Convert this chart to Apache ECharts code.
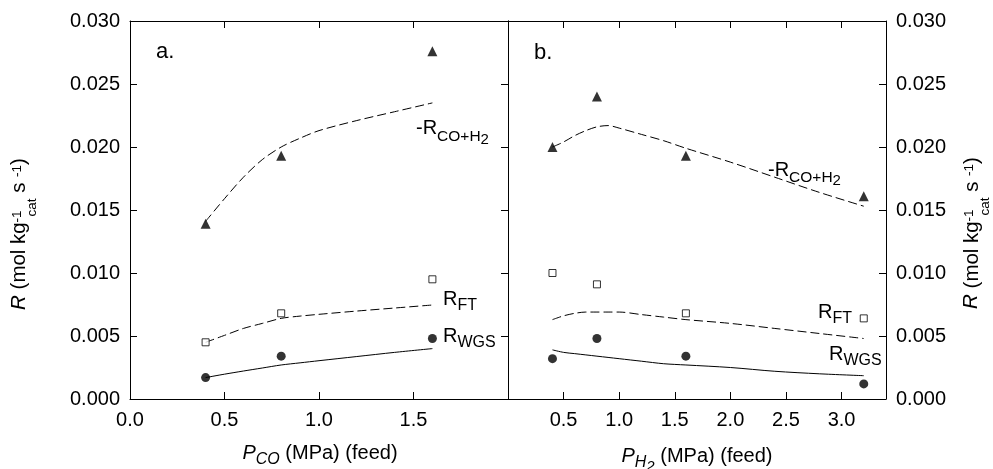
<!DOCTYPE html>
<html>
<head>
<meta charset="utf-8">
<script src="https://cdn.jsdelivr.net/npm/echarts@6/dist/echarts.min.js"></script>
<style>
  html, body { margin: 0; padding: 0; background: #fff; }
  #chart { width: 993px; height: 469px; }
</style>
</head>
<body>
<div id="chart"></div>
<script>
// ---------- data ----------
// Panel a: varying CO feed pressure
const pcoFeed = [0.4, 0.8, 1.6];
const aRCO = [0.0139, 0.0193, 0.0276];   // -R_CO+H2 (triangles)
const aRFT = [0.0045, 0.0068, 0.0095];   // R_FT (open squares)
const aRWGS = [0.0017, 0.0034, 0.0048];  // R_WGS (filled circles)

// Panel a model curves
const aModelX = [0.4, 0.5, 0.6, 0.7, 0.8, 0.9, 1.0, 1.2, 1.4, 1.6];
const aModelRCO = [0.0141, 0.0159, 0.0176, 0.0190, 0.0200, 0.0207, 0.0213, 0.0221, 0.0228, 0.0235];
const aModelRFT = [0.0045, 0.00505, 0.0056, 0.0060, 0.0064, 0.00658, 0.00672, 0.00698, 0.00722, 0.00746];
const aModelRWGS = [0.0017, 0.00197, 0.00222, 0.00246, 0.0027, 0.00287, 0.00304, 0.00337, 0.0037, 0.0040];

// Panel b: varying H2 feed pressure
const ph2Feed = [0.4, 0.8, 1.6, 3.2];
const bRCO = [0.0200, 0.0240, 0.0193, 0.0161];
const bRFT = [0.0100, 0.0091, 0.0068, 0.0064];
const bRWGS = [0.0032, 0.0048, 0.0034, 0.0012];

// Panel b model curves
const bModelX = [0.4, 0.5, 0.6, 0.7, 0.8, 0.9, 1.0, 1.2, 1.4, 1.6, 2.0, 2.4, 2.8, 3.2];
const bModelRCO = [0.0200, 0.0204, 0.0209, 0.0213, 0.0216, 0.0217, 0.0215, 0.0210, 0.0205, 0.0199, 0.0188, 0.0176, 0.0164, 0.0153];
const bModelRFT = [0.0063, 0.0066, 0.0068, 0.0069, 0.0069, 0.0069, 0.0069, 0.0067, 0.0065, 0.0063, 0.0060, 0.0056, 0.0052, 0.0048];
const bModelRWGS = [0.0039, 0.0037, 0.0036, 0.0035, 0.0034, 0.0033, 0.0032, 0.0030, 0.0028, 0.0027, 0.0025, 0.0022, 0.0020, 0.00185];

// axis ranges / ticks
const yMin = 0, yMax = 0.030, yStep = 0.005;
const xaMin = 0, xaMax = 2.0, xaStep = 0.5;
const xbMin = 0, xbMax = 3.4, xbStep = 0.5;

// ---------- chart ----------
const FONT = '"Liberation Sans", Arial, Helvetica, sans-serif';
const BLACK = '#000';
const FS = 20;
const chart = echarts.init(document.getElementById('chart'), null, { renderer: 'canvas' });

const pairs = (xs, ys) => xs.map((x, i) => [x, ys[i]]);

const tickStyle = { show: true, inside: true, length: 7, lineStyle: { color: BLACK, width: 1 } };
const lineStyleAxis = { show: true, onZero: false, lineStyle: { color: BLACK, width: 1 } };
const labelStyle = { color: BLACK, fontFamily: FONT, fontSize: FS };

function xAxis(gridIndex, position, min, max, step, showLabels, hideFn) {
  return {
    type: 'value', gridIndex, position, min, max, interval: step,
    axisLine: lineStyleAxis,
    axisTick: tickStyle,
    splitLine: { show: false },
    axisLabel: showLabels ? Object.assign({}, labelStyle, {
      margin: 11, showMinLabel: true, showMaxLabel: true,
      formatter: v => hideFn(v) ? '' : v.toFixed(1)
    }) : { show: false }
  };
}
function yAxis(gridIndex, position, showLabels, showTicks) {
  return {
    type: 'value', gridIndex, position, min: yMin, max: yMax, interval: yStep,
    axisLine: lineStyleAxis,
    axisTick: showTicks ? tickStyle : { show: false },
    splitLine: { show: false },
    axisLabel: showLabels ? Object.assign({}, labelStyle, {
      margin: 10, formatter: v => v.toFixed(3)
    }) : { show: false }
  };
}

const dashed = { color: BLACK, width: 1, type: [9, 4] };
const solid = { color: BLACK, width: 1, type: 'solid' };

function modelLine(name, xi, yi, xs, ys, style) {
  return {
    name, type: 'line', xAxisIndex: xi, yAxisIndex: yi, data: pairs(xs, ys),
    showSymbol: false, smooth: 0.3, lineStyle: style, z: 2, silent: true
  };
}
function points(name, xi, yi, xs, ys, kind) {
  const base = { name, type: 'scatter', xAxisIndex: xi, yAxisIndex: yi, data: pairs(xs, ys), z: 3, silent: true };
  if (kind === 'tri') return Object.assign(base, { symbol: 'triangle', symbolSize: 10, itemStyle: { color: BLACK } });
  if (kind === 'sq') return Object.assign(base, { symbol: 'rect', symbolSize: 7, itemStyle: { color: '#fff', borderColor: BLACK, borderWidth: 1 } });
  return Object.assign(base, { symbol: 'circle', symbolSize: 9, itemStyle: { color: BLACK } });
}

// rich text styles: vertical offsets via top padding (all tokens top-aligned)
function tok(size, padTop, italic, extra) {
  return Object.assign({
    fontFamily: FONT, fontSize: size, color: BLACK, verticalAlign: 'top',
    padding: [padTop, 0, 0, 0], fontStyle: italic ? 'italic' : 'normal'
  }, extra || {});
}
const rich = {
  m:   tok(FS, 4, false),
  mi:  tok(FS, 4, true),
  t:   tok(20.5, 4, false),           // y-title main text
  ti:  tok(20.5, 4, true),
  s:   tok(16, 12.1, false),          // R_FT, R_WGS subscripts
  si:  tok(16, 12.3, true),           // P_CO subscript
  sh:  tok(16, 13, true),             // P_H subscript
  sc:  tok(15.5, 13.75, false),       // CO+H subscript
  ss:  tok(15, 17.7, false),          // sub-subscript 2
  ssi: tok(15, 17.5, true),
  sup: tok(13.5, 4.9, false),
  sup0:tok(13.5, 4.9, false, { width: 0.01 }),
  cat: tok(13.5, 20.5, false)
};

function txt(x, y, text, align, extra) {
  return Object.assign({
    type: 'text', x, y, silent: true, z: 10,
    style: { text, rich, align: align || 'left', verticalAlign: 'top', fill: BLACK, font: FS + 'px ' + FONT }
  }, extra || {});
}

const yTitle = '{ti|R}{t| (mol kg }{sup0|-1}{cat|cat}{t| s }{sup|-1}{t|)}';

chart.setOption({
  backgroundColor: '#fff',
  animation: false,
  grid: [
    { left: 130, top: 21, width: 378, height: 378, outerBoundsMode: 'none', containLabel: false },
    { left: 508, top: 21, width: 378, height: 378, outerBoundsMode: 'none', containLabel: false }
  ],
  xAxis: [
    xAxis(0, 'bottom', xaMin, xaMax, xaStep, true, v => v >= xaMax - 1e-9),
    xAxis(0, 'top', xaMin, xaMax, xaStep, false),
    xAxis(1, 'bottom', xbMin, xbMax, xbStep, true, v => v <= 1e-9 || v > 3.05),
    xAxis(1, 'top', xbMin, xbMax, xbStep, false)
  ],
  yAxis: [
    yAxis(0, 'left', true, true),
    yAxis(0, 'right', false, true),
    yAxis(1, 'right', true, true),
    yAxis(1, 'left', false, false)
  ],
  series: [
    modelLine('a -R CO+H2 model', 0, 0, aModelX, aModelRCO, dashed),
    modelLine('a R FT model', 0, 0, aModelX, aModelRFT, dashed),
    modelLine('a R WGS model', 0, 0, aModelX, aModelRWGS, solid),
    points('a -R CO+H2', 0, 0, pcoFeed, aRCO, 'tri'),
    points('a R FT', 0, 0, pcoFeed, aRFT, 'sq'),
    points('a R WGS', 0, 0, pcoFeed, aRWGS, 'circ'),
    modelLine('b -R CO+H2 model', 2, 2, bModelX, bModelRCO, dashed),
    modelLine('b R FT model', 2, 2, bModelX, bModelRFT, dashed),
    modelLine('b R WGS model', 2, 2, bModelX, bModelRWGS, solid),
    points('b -R CO+H2', 2, 2, ph2Feed, bRCO, 'tri'),
    points('b R FT', 2, 2, ph2Feed, bRFT, 'sq'),
    points('b R WGS', 2, 2, ph2Feed, bRWGS, 'circ')
  ],
  graphic: [
    // panel letters
    { type: 'text', x: 156, y: 51.5, silent: true, style: { text: 'a.', font: '22px ' + FONT, fill: BLACK, verticalAlign: 'middle' } },
    { type: 'text', x: 534, y: 53, silent: true, style: { text: 'b.', font: '22px ' + FONT, fill: BLACK, verticalAlign: 'middle' } },
    // curve labels panel a
    txt(416, 114.5, '{m|-R}{sc|CO+H}{ss|2}'),
    txt(443, 285.5, '{m|R}{s|FT}'),
    txt(443, 322, '{m|R}{s|WGS}'),
    // curve labels panel b
    txt(768, 156, '{m|-R}{sc|CO+H}{ss|2}'),
    txt(818, 298.5, '{m|R}{s|FT}'),
    txt(829, 340.5, '{m|R}{s|WGS}'),
    // x-axis titles
    txt(320, 439, '{mi|P}{si|CO}{m| (MPa) (feed)}', 'center'),
    txt(697, 442, '{mi|P}{sh|H}{ssi|2}{m| (MPa) (feed)}', 'center'),
    // y-axis titles (rotated)
    txt(5, 234, yTitle, 'center', { rotation: Math.PI / 2 }),
    txt(957.5, 233, yTitle, 'center', { rotation: Math.PI / 2 })
  ]
});
</script>
</body>
</html>
